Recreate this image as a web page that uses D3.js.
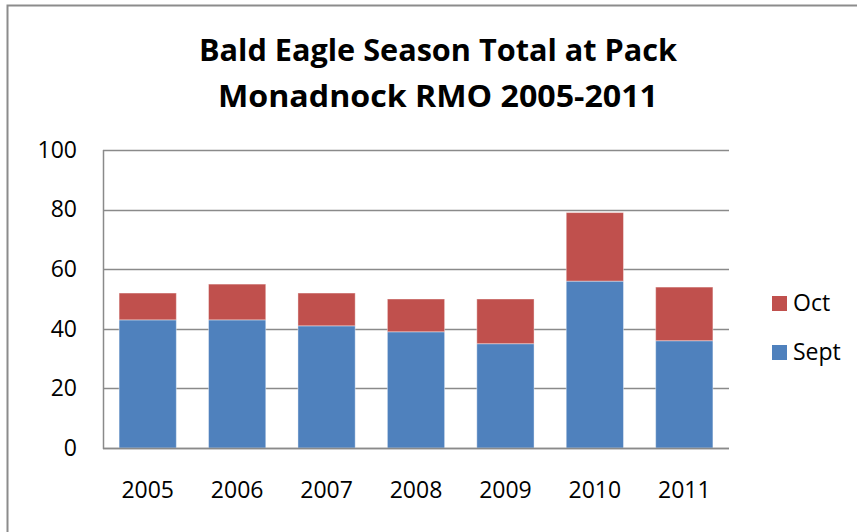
<!DOCTYPE html>
<html>
<head>
<meta charset="utf-8">
<script src="https://cdn.jsdelivr.net/npm/d3@7"></script>
<style>
  body { margin: 0; background: #fff; }
  text { font-family: "Open Sans", "Noto Sans", sans-serif; fill: #000; }
</style>
</head>
<body>
<div id="chart"></div>
<script>
let years = ["2005", "2006", "2007", "2008", "2009", "2010", "2011"];
let sept = [43, 43, 41, 39, 35, 56, 36];
let oct = [9, 12, 11, 11, 15, 23, 18];
let seriesNames = ["Sept", "Oct"];
let yTicks = [0, 20, 40, 60, 80, 100];

let svgWidth = 857;
let svgHeight = 532;

let margin = { top: 150, right: 128, bottom: 84, left: 103 };
let width = svgWidth - margin.left - margin.right;
let height = svgHeight - margin.top - margin.bottom;

let colors = { Sept: "#4F81BD", Oct: "#C0504D" };

let svg = d3.select("#chart")
  .append("svg")
  .attr("width", svgWidth)
  .attr("height", svgHeight);

// outer chart frame
svg.append("rect")
  .attr("x", 7.5)
  .attr("y", 5.5)
  .attr("width", 900)
  .attr("height", 600)
  .attr("fill", "none")
  .attr("stroke", "#8c8c8c")
  .attr("stroke-width", 2);

// title
let title = svg.append("text")
  .attr("text-anchor", "middle")
  .attr("font-weight", 700)
  .attr("font-size", 30);
title.append("tspan").attr("x", 438).attr("y", 61).text("Bald Eagle Season Total at Pack")
  .attr("textLength", 478).attr("lengthAdjust", "spacingAndGlyphs");
title.append("tspan").attr("x", 438).attr("y", 107).text("Monadnock RMO 2005-2011")
  .attr("textLength", 440).attr("lengthAdjust", "spacingAndGlyphs");

let chartGroup = svg.append("g")
  .attr("transform", `translate(${margin.left}, ${margin.top})`);

let data = years.map((y, i) => ({ year: y, Sept: sept[i], Oct: oct[i] }));
let stacked = d3.stack().keys(seriesNames)(data);

let xScale = d3.scaleBand()
  .domain(years)
  .range([0, width])
  .paddingInner(0.36)
  .paddingOuter(0.18);

let yScale = d3.scaleLinear()
  .domain([0, 100])
  .range([height, 0]);

// gridlines
chartGroup.append("g")
  .selectAll("line")
  .data(yTicks)
  .enter()
  .append("line")
  .attr("x1", 0)
  .attr("x2", width)
  .attr("y1", d => Math.round(yScale(d)) + 0.5)
  .attr("y2", d => Math.round(yScale(d)) + 0.5)
  .attr("stroke", "#8a8a8a")
  .attr("stroke-width", 1.3);

// bars
chartGroup.selectAll("g.series")
  .data(stacked)
  .enter()
  .append("g")
  .attr("class", "series")
  .attr("fill", d => colors[d.key])
  .selectAll("rect")
  .data(d => d)
  .enter()
  .append("rect")
  .attr("x", d => xScale(d.data.year))
  .attr("y", d => yScale(d[1]))
  .attr("width", xScale.bandwidth())
  .attr("height", d => yScale(d[0]) - yScale(d[1]))
  .attr("stroke", "rgba(255,255,255,0.4)")
  .attr("stroke-width", 1);

// axes
let leftAxis = d3.axisLeft(yScale).tickValues(yTicks).tickSize(0).tickPadding(26);
let bottomAxis = d3.axisBottom(xScale).tickSize(0).tickPadding(34);

let yAxisG = chartGroup.append("g").call(leftAxis);
yAxisG.select(".domain").remove();
yAxisG.selectAll("text").attr("font-size", 23).attr("font-family", "Open Sans").attr("fill", "#000");

let xAxisG = chartGroup.append("g")
  .attr("transform", `translate(0, ${height})`)
  .call(bottomAxis);
xAxisG.select(".domain").remove();
xAxisG.selectAll("text").attr("font-size", 23).attr("font-family", "Open Sans").attr("fill", "#000");

// axis lines
chartGroup.append("line")
  .attr("x1", 0.5).attr("x2", 0.5)
  .attr("y1", 0).attr("y2", height + 1)
  .attr("stroke", "#8a8a8a").attr("stroke-width", 1.5);
chartGroup.append("line")
  .attr("x1", 0).attr("x2", width)
  .attr("y1", height + 0.5).attr("y2", height + 0.5)
  .attr("stroke", "#8a8a8a").attr("stroke-width", 1.5);

// legend
let legendItems = ["Oct", "Sept"];
let legend = svg.append("g")
  .selectAll("g")
  .data(legendItems)
  .enter()
  .append("g")
  .attr("transform", (d, i) => `translate(772, ${296 + i * 49})`);
legend.append("rect")
  .attr("width", 15)
  .attr("height", 15)
  .attr("fill", d => colors[d]);
legend.append("text")
  .attr("x", 21)
  .attr("y", 15)
  .attr("font-size", 23)
  .text(d => d);
</script>
</body>
</html>
